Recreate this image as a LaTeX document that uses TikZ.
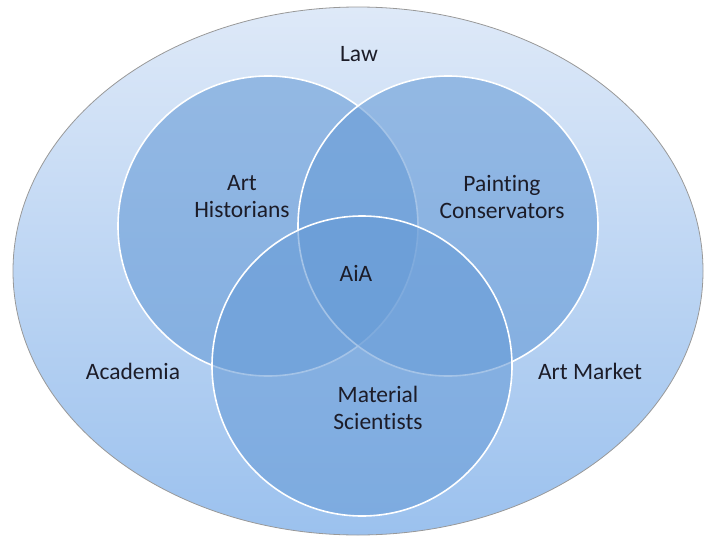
\documentclass[tikz,border=0pt]{standalone}
\usepackage{fontspec}
\setmainfont[Ligatures=NoCommon]{Carlito}
\definecolor{fieldtop}{RGB}{222,233,248}
\definecolor{fieldbottom}{RGB}{155,193,238}
\definecolor{setblue}{RGB}{104,156,215}
\definecolor{labelink}{RGB}{28,28,40}
\tikzset{
  field/.style={top color=fieldtop,bottom color=fieldbottom,draw=gray!80,line width=0.8pt},
  group/.style={fill=setblue,fill opacity=0.6,draw=white,draw opacity=1,line width=1.6pt},
  lbl/.style={text=labelink,align=center,font=\fontsize{23.5}{27}\selectfont,inner sep=0pt}
}
\begin{document}
\begin{tikzpicture}[x=1pt,y=-1pt]
        \useasboundingbox (0,0) rectangle (704,538);

        % outer field
        \draw[field] (358,271) ellipse[x radius=345pt,y radius=264pt];

        % the three groups
        \foreach \cx/\cy in {268/226, 448/226, 362/366} {
                \draw[group] (\cx,\cy) circle[radius=150pt];
        }

        % labels
        \node[lbl] (law) at (359,54) {Law};
        \node[lbl] (hist) at (242,197) {Art\\Historians};
        \node[lbl] (cons) at (502,197) {Painting\\Conservators};
        \node[lbl] (aia) at (356,273) {AiA};
        \node[lbl] (acad) at (133,371) {Academia};
        \node[lbl] (market) at (590,371) {Art Market};
        \node[lbl] (sci) at (378,408) {Material\\Scientists};
\end{tikzpicture}
\end{document}
